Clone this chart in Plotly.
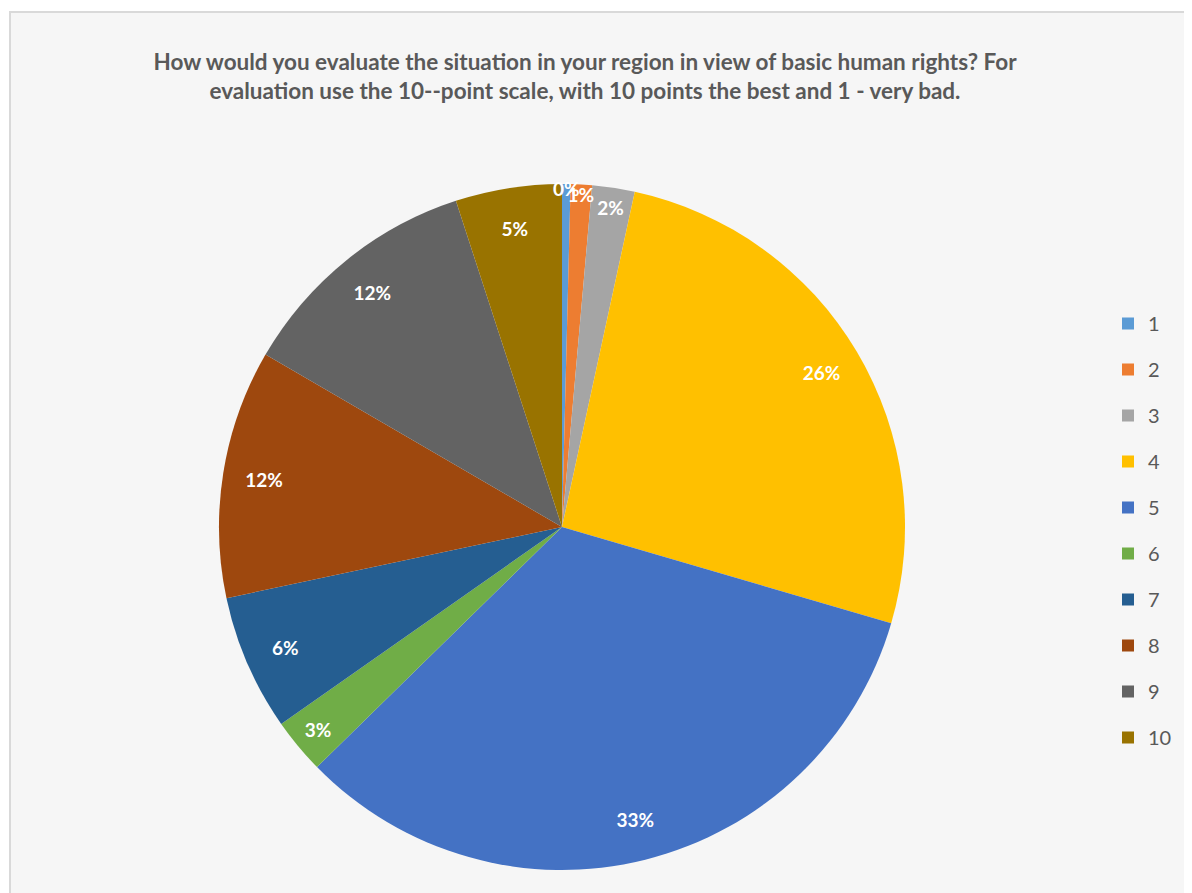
import plotly.graph_objects as go

categories = ["1", "2", "3", "4", "5", "6", "7", "8", "9", "10"]
values = [0.4, 1.0, 2.0, 26.1, 33.1, 2.6, 6.4, 11.7, 11.6, 5.0]
colors = ["#5B9BD5", "#ED7D31", "#A5A5A5", "#FFC000", "#4472C4",
          "#70AD47", "#255E91", "#9E480E", "#636363", "#997300"]
title_text = ("<b>How would you evaluate the situation in your region in view of basic human rights? For<br>"
              "evaluation use the 10--point scale, with 10 points the best and 1 - very bad.</b>")

OFF = 8  # page body margin
W, H = 1184, 885
cx, cy, r = 562 - OFF, 527 - OFF, 343
dom_x = [(cx - r) / W, (cx + r) / W]
dom_y = [(H - (cy + r)) / H, (H - (cy - r)) / H]

fig = go.Figure()

# main pie (no text)
fig.add_trace(go.Pie(
    labels=categories, values=values, sort=False, direction="clockwise",
    rotation=0, marker=dict(colors=colors, line=dict(width=0)),
    textinfo="none", showlegend=False, domain=dict(x=dom_x, y=dom_y),
    hoverinfo="label+percent"))

# transparent ring carrying the labels near the rim
fig.add_trace(go.Pie(
    labels=categories, values=values, sort=False, direction="clockwise",
    rotation=0, hole=0.76,
    marker=dict(colors=["rgba(0,0,0,0)"] * len(values), line=dict(width=0)),
    texttemplate="<b>%{percent:.0%}</b>", textposition="inside",
    insidetextorientation="horizontal",
    textfont=dict(family="Lato", size=19, color="white"),
    showlegend=False, domain=dict(x=dom_x, y=dom_y), hoverinfo="skip"))

# legend entries
for c, col in zip(categories, colors):
    fig.add_trace(go.Scatter(
        x=[None], y=[None], mode="markers", name=c, legendgroup=c,
        marker=dict(symbol="square", size=13, color=col)))

fig.update_layout(
    width=W, height=H,
    margin=dict(l=0, r=0, t=0, b=0),
    paper_bgcolor="white", plot_bgcolor="rgba(0,0,0,0)",
    font=dict(family="Lato", color="#595959"),
    title=dict(text=title_text, x=(585 - OFF) / W, xanchor="center",
               yref="container", y=1 - (70 - OFF) / H, yanchor="top",
               font=dict(family="Lato", size=22.5, color="#595959")),
    uniformtext=dict(minsize=19, mode="show"),
    xaxis=dict(visible=False), yaxis=dict(visible=False),
    legend=dict(x=(1108 - OFF) / W, xanchor="left", y=1 - (304 - OFF) / H, yanchor="top",
                font=dict(family="Lato", size=20, color="#595959"),
                tracegroupgap=17, bgcolor="rgba(0,0,0,0)", itemsizing="constant"),
    shapes=[dict(type="rect", xref="paper", yref="paper",
                 x0=(10 - OFF) / W, x1=1.02, y0=-0.02, y1=1 - (12 - OFF) / H,
                 fillcolor="#f6f6f6", line=dict(color="#d9d9d9", width=2),
                 layer="below")],
)

fig.write_html("out.html")
